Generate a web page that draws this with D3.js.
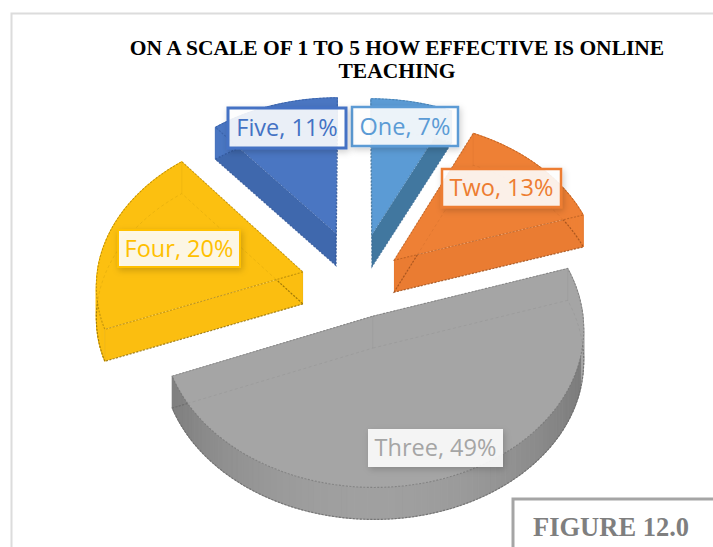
<!DOCTYPE html>
<html>
<head>
<meta charset="utf-8">
<script src="https://cdn.jsdelivr.net/npm/d3@7/dist/d3.min.js"></script>
<style>
  html, body { margin: 0; padding: 0; background: #fff; }
  svg { display: block; }
</style>
</head>
<body>
<svg id="chart" width="713" height="547"></svg>
<script>
// Survey results
const categories = ["One", "Two", "Three", "Four", "Five"];
const percents = [7, 13, 49, 20, 11];
const titleLines = ["ON A SCALE OF 1 TO 5 HOW EFFECTIVE IS ONLINE", "TEACHING"];
const figureCaption = "FIGURE 12.0";

// Slice styling
const topColors = ["#5b9bd5", "#ee8035", "#a5a5a5", "#fcc010", "#4a76c2"];
const wallColors = ["#41779f", "#ea7c32", "#7d7d7d", "#fbbe10", "#3f68ad"];
const wallLights = ["#41779f", "#ee8035", "#a0a0a0", "#fcc010", "#3f68ad"];
const edgeColors = ["#3d6f98", "#9c4f1c", "#6a6a6a", "#8f6b06", "#2f5597"];
const labelColors = ["#5b9bd5", "#ed7d31", "#a5a5a5", "#ffc000", "#4472c4"];

// How far each slice is pulled out of the pie, in radius units
const explodeX = [0.079, 0.186, 0.08, -0.258, -0.099];
const explodeY = [-0.27, -0.098, 0.265, -0.02, -0.278];

// Label box centres and sizes
const labelCenters = [[405, 126.5], [501.5, 188], [435.5, 448], [179, 248.5], [287, 128]];
const labelSizes = [[106, 39], [119, 38], [135, 38], [122, 37], [118, 40]];
const labelBorders = [2.5, 2.5, 0, 2, 3];

// Projection of the tilted disc onto the page
const perspective = 0.075;
const depth = 32;
const xScale = d3.scaleLinear().domain([-1, 1]).range([356 - 206, 356 + 206]);
const yScale = d3.scaleLinear().domain([-1, 1]).range([275 - 152, 275 + 152]);

function project(px, py) {
  const s = 1 / (1 - perspective * py);
  return [xScale(px * s), yScale(py * s)];
}

const svg = d3.select("#chart");
const W = +svg.attr("width");
const H = +svg.attr("height");

const defs = svg.append("defs");
const shadow = defs.append("filter").attr("id", "labelShadow")
  .attr("x", "-20%").attr("y", "-30%").attr("width", "140%").attr("height", "170%");
shadow.append("feDropShadow")
  .attr("dx", 1.5).attr("dy", 2.5).attr("stdDeviation", 3)
  .attr("flood-color", "#000").attr("flood-opacity", 0.2);

// Outer frame, running off the right and bottom of the page
svg.append("rect")
  .attr("x", 11.5).attr("y", 13.5)
  .attr("width", W + 20).attr("height", H + 20)
  .attr("fill", "#fff").attr("stroke", "#dcdcdc").attr("stroke-width", 2);

// Title
svg.append("g").selectAll("text").data(titleLines).join("text")
  .attr("x", 397)
  .attr("y", (d, i) => 55 + i * 23)
  .attr("text-anchor", "middle")
  .attr("font-family", "'Liberation Serif', serif")
  .attr("font-weight", "bold")
  .attr("font-size", 21.5)
  .attr("fill", "#000")
  .text(d => d);

// Pie layout, clockwise from twelve o'clock
const arcs = d3.pie().sort(null).startAngle(0).endAngle(2 * Math.PI)(percents);

const line = d3.line();
const toPoint = (i, angle, r) => project(
  explodeX[i] + r * Math.sin(angle),
  explodeY[i] - r * Math.cos(angle)
);
const lower = p => [p[0], p[1] + depth];

const sliceData = arcs.map((a, i) => {
  const steps = Math.max(6, Math.ceil((a.endAngle - a.startAngle) / 0.03));
  const angles = d3.range(steps + 1).map(k => a.startAngle + (a.endAngle - a.startAngle) * k / steps);
  const apex = toPoint(i, 0, 0);
  const rim = angles.map(t => toPoint(i, t, 1));
  return { i, angles, apex, rim };
});

const pieLayer = svg.append("g");

// Rim colour: flat where the side still catches the top light, then
// dark at the flanks and lighter again toward the viewer
function rimColor(i, angle) {
  const c = Math.cos(angle);
  if (c > -0.25) return topColors[i];
  const t = Math.pow(Math.max(0, (-c - 0.25) / 0.75), 1.6);
  return d3.interpolateRgb(wallColors[i], wallLights[i])(t);
}

// Draw the slices from the back of the disc to the front
const order = [4, 0, 1, 3, 2];
order.forEach(i => {
  const { angles, apex, rim } = sliceData[i];
  const g = pieLayer.append("g").attr("class", "slice-" + categories[i]);

  // Cut faces
  [rim[0], rim[rim.length - 1]].forEach(p => {
    g.append("path")
      .attr("d", line([apex, p, lower(p), lower(apex)]) + "Z")
      .attr("fill", wallColors[i]);
  });

  // Curved rim
  rim.slice(1).forEach((p, k) => {
    const q = rim[k];
    const col = rimColor(i, angles[k]);
    g.append("path")
      .attr("d", line([q, p, lower(p), lower(q)]) + "Z")
      .attr("fill", col)
      .attr("stroke", col)
      .attr("stroke-width", 1);
  });

  // Jagged silhouette of the extruded slice
  const hull = [apex, ...rim];
  const bottomRim = hull.map(lower);
  g.append("path")
    .attr("d", line(bottomRim) + "Z")
    .attr("fill", "none")
    .attr("stroke", edgeColors[i])
    .attr("stroke-width", 1.2)
    .attr("stroke-dasharray", "2 1.5")
    .attr("opacity", 0.8);

  // Top face
  g.append("path")
    .attr("d", line(hull) + "Z")
    .attr("fill", topColors[i])
    .attr("stroke", edgeColors[i])
    .attr("stroke-width", 1.1)
    .attr("stroke-dasharray", "2 1.5")
    .attr("stroke-opacity", 0.55);

  // Hidden lower outline showing faintly through the face
  g.append("path")
    .attr("d", line(bottomRim) + "Z")
    .attr("fill", "none")
    .attr("stroke", edgeColors[i])
    .attr("stroke-width", 0.8)
    .attr("stroke-dasharray", "3 2.5")
    .attr("opacity", 0.2);
  [rim[0], rim[rim.length - 1], apex].forEach(p => {
    g.append("path")
      .attr("d", line([p, lower(p)]))
      .attr("fill", "none")
      .attr("stroke", edgeColors[i])
      .attr("stroke-width", 0.8)
      .attr("opacity", 0.12);
  });
});

// Data labels
const labels = svg.append("g").selectAll("g").data(arcs).join("g")
  .attr("transform", (d, i) => `translate(${labelCenters[i][0]},${labelCenters[i][1]})`);

labels.append("rect")
  .attr("x", (d, i) => -labelSizes[i][0] / 2)
  .attr("y", (d, i) => -labelSizes[i][1] / 2)
  .attr("width", (d, i) => labelSizes[i][0])
  .attr("height", (d, i) => labelSizes[i][1])
  .attr("fill", "#fff")
  .attr("fill-opacity", 0.88)
  .attr("stroke", (d, i) => labelColors[i])
  .attr("stroke-width", (d, i) => labelBorders[i])
  .attr("filter", "url(#labelShadow)");

labels.append("text")
  .attr("text-anchor", "middle")
  .attr("dy", "0.36em")
  .attr("font-family", "'Open Sans', sans-serif")
  .attr("font-size", 23.5)
  .attr("fill", (d, i) => labelColors[i])
  .text((d, i) => `${categories[i]}, ${d.value}%`);

// Figure caption box, also cut off by the page edge
const figure = svg.append("g");
figure.append("rect")
  .attr("x", 513).attr("y", 499)
  .attr("width", W).attr("height", H)
  .attr("fill", "#fff").attr("stroke", "#a5a5a5").attr("stroke-width", 3);
figure.append("text")
  .attr("x", 533).attr("y", 536)
  .attr("font-family", "'Liberation Serif', serif")
  .attr("font-weight", "bold")
  .attr("font-size", 26.5)
  .attr("fill", "#7f7f7f")
  .text(figureCaption);
</script>
</body>
</html>
